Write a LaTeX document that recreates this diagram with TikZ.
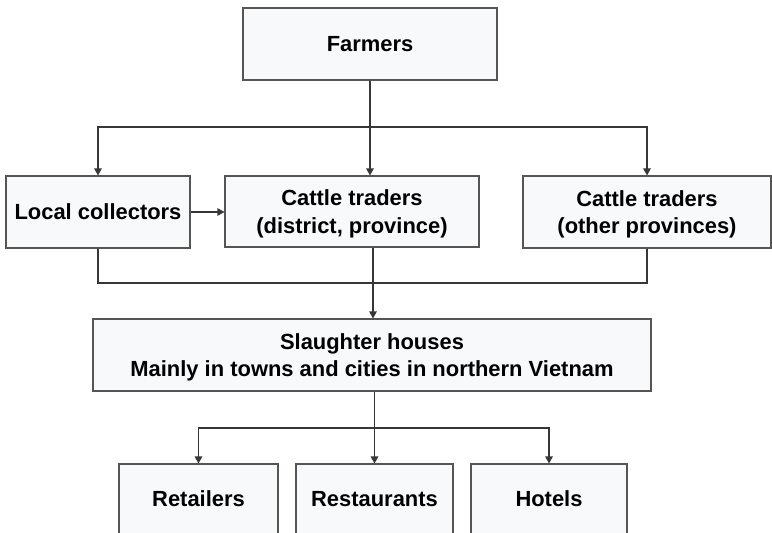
\documentclass[tikz,border=0pt]{standalone}
\usepackage{fontspec}
\setmainfont{Liberation Sans}
\usetikzlibrary{arrows.meta}
\definecolor{boxfill}{RGB}{248,249,251}
\definecolor{boxline}{RGB}{85,85,85}
\definecolor{linkline}{RGB}{55,55,55}
\begin{document}
\begin{tikzpicture}[x=1bp,y=-1bp,
  chainbox/.style={draw=boxline,line width=1.1bp,fill=boxfill,align=center,
    inner sep=0pt,text depth=0pt,font=\bfseries\fontsize{22}{27.5}\selectfont},
  outlet/.style={chainbox,minimum height=76bp,text depth=6bp},
  link/.style={draw=linkline,line width=1.2bp},
  arrowlink/.style={link,-{Triangle[length=7bp,width=7.5bp]}}]
\useasboundingbox (0,0) rectangle (772,533);
\clip (0,0) rectangle (772,533);
\fill[white] (0,0) rectangle (772,533);

% boxes
\node[chainbox,minimum width=254bp,minimum height=72bp] (farmers) at (370,44) {Farmers};
\node[chainbox,minimum width=184bp,minimum height=72bp] (local) at (98,212) {Local collectors};
\node[chainbox,minimum width=254bp,minimum height=71bp] (ctd) at (352,211.5) {Cattle traders\\(district, province)};
\node[chainbox,minimum width=248bp,minimum height=72bp] (cto) at (647,212) {Cattle traders\\(other provinces)};
\node[chainbox,minimum width=558bp,minimum height=72bp] (slaughter) at (372,355) {Slaughter houses\\Mainly in towns and cities in northern Vietnam};
\node[outlet,minimum width=159bp] (retail) at (198.5,502) {Retailers};
\node[outlet,minimum width=157bp] (rest) at (374.5,502) {Restaurants};
\node[outlet,minimum width=156bp] (hotels) at (549,502) {Hotels};

% junction points of the connectors
\coordinate (split) at (370,127);
\coordinate (merge) at (373,283);
\coordinate (branch) at (374.5,428);

% farmers to the three trader groups
\draw[link] (farmers.south) -- (split);
\draw[arrowlink] (split) -- (split |- ctd.north);
\draw[arrowlink] (split) -| (local.north);
\draw[arrowlink] (split) -| (cto.north);

% local collectors sell to district traders
\draw[arrowlink] (local.east) -- (ctd.west |- local.east);

% traders to slaughter houses
\draw[link] (local.south) |- (merge);
\draw[link] (cto.south) |- (merge);
\draw[link] (merge |- ctd.south) -- (merge);
\draw[arrowlink] (merge) -- (merge |- slaughter.north);

% slaughter houses to outlets
\draw[link] (branch |- slaughter.south) -- (branch);
\draw[arrowlink] (branch) -- (rest.north);
\draw[arrowlink] (branch) -| (retail.north);
\draw[arrowlink] (branch) -| (hotels.north);
\end{tikzpicture}
\end{document}
